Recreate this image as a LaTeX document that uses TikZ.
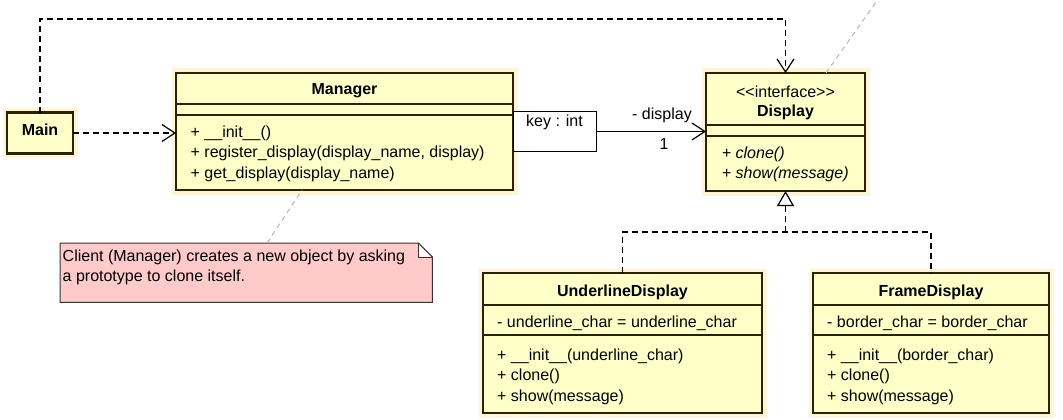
\documentclass[tikz,border=0pt]{standalone}
\usepackage{fontspec}
\setmainfont{Liberation Sans}
\usepackage{tikz}
\usetikzlibrary{arrows.meta, positioning}
\definecolor{umlfill}{HTML}{FFFFC8}
\definecolor{umlglow}{HTML}{FFF4D4}
\definecolor{umlline}{HTML}{2B2107}
\definecolor{notefill}{HTML}{FFCACA}
\definecolor{linkgray}{HTML}{B4B4B4}
\tikzstyle{classbox} = [rectangle, draw=umlline, line width=2.6pt, fill=umlfill, inner sep=0pt, outer sep=0pt, anchor=north west, preaction={draw=umlglow, line width=9pt}]
\tikzstyle{classname} = [font=\fontsize{16pt}{20.5pt}\selectfont\bfseries, anchor=base, inner sep=0pt]
\tikzstyle{members} = [align=left, anchor=north west, inner sep=0pt]
\tikzstyle{attr} = [anchor=base west, inner sep=0pt]
\tikzstyle{sepline} = [draw=umlline, line width=1.1pt]
\tikzstyle{qualbox} = [rectangle, draw=black, line width=1pt, fill=white, inner sep=0pt, anchor=north west]
\tikzstyle{dep} = [dash pattern=on 6pt off 4pt, line width=1.2pt, -{Straight Barb[length=13pt, width=17pt]}]
\tikzstyle{assoc} = [line width=1.2pt, -{Straight Barb[length=13pt, width=17pt]}]
\tikzstyle{impl} = [dash pattern=on 6pt off 4pt, line width=1.2pt]
\tikzstyle{notelink} = [draw=linkgray, line width=1pt, dash pattern=on 5pt off 4pt]
\tikzstyle{noteline} = [draw=black!80, line width=1pt]
\tikzset{every node/.style={font=\fontsize{16pt}{20.5pt}\selectfont}}

\begin{document}
\begin{tikzpicture}[x=1pt, y=-1pt]
    \useasboundingbox (0,0) rectangle (1063,420);

    % classes
    \node (main) [classbox, minimum width=66pt, minimum height=41pt, font=\fontsize{16pt}{20.5pt}\selectfont\bfseries, text height=11.5pt, text depth=6pt] at (7,112.5) {Main};
    \node (mgr) [classbox, minimum width=337pt, minimum height=117pt] at (176,73) {};
    \node (disp) [classbox, minimum width=159pt, minimum height=118pt] at (706,73) {};
    \node (under) [classbox, minimum width=279pt, minimum height=140pt] at (483,273) {};
    \node (frame) [classbox, minimum width=236pt, minimum height=140pt] at (813,273) {};
    \node (qual) [qualbox, minimum width=83pt, minimum height=40pt] at (513,111) {};

    % compartments
    \draw [sepline] (mgr.west |- 0,104) -- (mgr.east |- 0,104);
    \draw [sepline] (mgr.west |- 0,115) -- (mgr.east |- 0,115);
    \draw [sepline] (disp.west |- 0,125) -- (disp.east |- 0,125);
    \draw [sepline] (disp.west |- 0,136) -- (disp.east |- 0,136);
    \draw [sepline] (under.west |- 0,305) -- (under.east |- 0,305);
    \draw [sepline] (under.west |- 0,335) -- (under.east |- 0,335);
    \draw [sepline] (frame.west |- 0,305) -- (frame.east |- 0,305);
    \draw [sepline] (frame.west |- 0,335) -- (frame.east |- 0,335);

    % Manager
    \node (mgrname) [classname] at (344.5,94) {Manager};
    \node (mgrops) [members] at (190.5,125.6) {+ \_\_init\_\_()\\+ register\_display(display\_name, display)\\+ get\_display(display\_name)};
    \node (qualtext) [anchor=base, inner sep=0pt] at (554.5,126.8) {key : int};

    % Display
    \node (dispstereo) [anchor=base, inner sep=0pt] at (785.5,97) {<\kern0pt<interface>\kern0pt>};
    \node (dispname) [classname] at (785.5,116) {Display};
    \node (dispops) [members, font=\fontsize{16pt}{20.5pt}\selectfont\itshape] at (721.7,146.6) {+ clone()\\+ show(message)};

    % UnderlineDisplay
    \node (undername) [classname] at (622.5,296) {UnderlineDisplay};
    \node (underattr) [attr] at (497,327) {- underline\_char = underline\_char};
    \node (underops) [members] at (497,348.6) {+ \_\_init\_\_(underline\_char)\\+ clone()\\+ show(message)};

    % FrameDisplay
    \node (framename) [classname] at (931,296) {FrameDisplay};
    \node (frameattr) [attr] at (827,327) {- border\_char = border\_char};
    \node (frameops) [members] at (827,348.6) {+ \_\_init\_\_(border\_char)\\+ clone()\\+ show(message)};

    % note
    \node (note) [rectangle, inner sep=0pt, anchor=north west, minimum width=372pt, minimum height=59pt] at (60,243) {};
    \coordinate (fold1) at ([xshift=-14pt]note.north east);
    \coordinate (fold2) at ([yshift=-14pt]note.north east);
    \fill [notefill] (note.north west) -- (fold1) -- (fold1 |- fold2) -- (fold2) -- (note.south east) -- (note.south west) -- cycle;
    \draw [noteline] (note.north west) -- (fold1) -- (fold2) -- (note.south east) -- (note.south west) -- cycle;
    \draw [noteline] (fold1) |- (fold2);
    \node (notetext) [members] at (62.5,249.3) {Client (Manager) creates a new object by asking\\a prototype to clone itself.};

    % connectors
    \coordinate (topbend) at (0,19);
    \draw [dep] (main.north) -- (main.north |- topbend) -| (disp.north);
    \draw [dep] (main.east) -- (main.east -| mgr.west);
    \draw [assoc] (qual.east) -- (qual.east -| disp.west);
    \node (role) [anchor=base, inner sep=0pt] at (662,119) {- display};
    \node (mult) [anchor=base, inner sep=0pt] at (664,149) {1};

    \coordinate (fork) at (disp.south |- 0,232);
    \draw [impl] (under.north) |- (fork) -| (frame.north);
    \draw [impl, -{Triangle[length=15pt, width=17pt, fill=white]}] (fork) -- (disp.south);

    \draw [notelink] ([xshift=207pt]note.north west) -- ([xshift=-42.5pt]mgr.south);
    \coordinate (offnote) at (886,-12);
    \draw [notelink] ([xshift=40.5pt]disp.north) -- (offnote);
\end{tikzpicture}
\end{document}
